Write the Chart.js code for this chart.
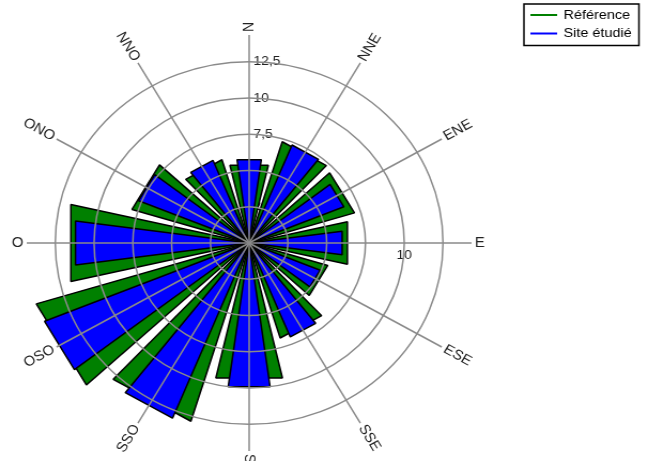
<!DOCTYPE html>
<html><head><meta charset="utf-8">
<script src="https://cdn.jsdelivr.net/npm/chart.js@4"></script>
<style>
html,body{margin:0;padding:0;background:#fff;overflow:hidden;width:648px;height:461px}
#wrap{position:absolute;left:0;top:0;width:606px;height:461px;transform:scaleX(1.0693);transform-origin:0 0}
canvas{display:block}
</style></head><body>
<div id="wrap"><canvas id="c" width="606" height="461" style="width:606px;height:461px"></canvas></div>
<script>
// Direction spokes (12, every 30°), labels as printed on the reference
const directions = ['N','NNE','ENE','E','ESE','SSE','S','SSO','OSO','O','ONO','NNO'];
// Series values per direction (same order as directions)
const refValues  = [5.5, 7.3, 7.1, 6.5, 5.3, 6.85, 9.55, 12.85, 14.35, 11.8, 7.9, 6.0];
const siteValues = [5.8, 7.3, 6.6, 6.05, 4.95, 7.0, 10.0, 13.05, 14.25, 11.3, 7.7, 6.15];
const seriesNames = ['Référence', 'Site étudié'];
const seriesColors = ['#008000', '#0000ff'];
const tickValues = [2.5, 5, 7.5, 10, 12.5];

const STEP = 360 / directions.length;
const REF_WIDTH = 26, SITE_WIDTH = 15.5;

function buildSeries(values, width) {
  const data = [0], angles = [STEP - width / 2], isBar = [false];
  for (let k = 1; k < values.length; k++) {
    data.push(values[k]); angles.push(width); isBar.push(true);
    data.push(0); angles.push(STEP - width); isBar.push(false);
  }
  data.push(values[0]); angles.push(width); isBar.push(true);
  return { data, angles, isBar };
}
const ref = buildSeries(refValues, REF_WIDTH);
const site = buildSeries(siteValues, SITE_WIDTH);

function makeDataset(s, name, color, order) {
  return {
    label: name, data: s.data, order: order, clip: false,
    backgroundColor: ctx => s.isBar[ctx.dataIndex] ? color : 'rgba(0,0,0,0)',
    borderColor: '#000',
    borderWidth: ctx => s.isBar[ctx.dataIndex] ? 1.5 : 0,
    angle: ctx => s.angles[ctx.dataIndex],
    circular: false
  };
}

const fmt = v => String(v).replace('.', ',');
const FONT = '"Liberation Sans", Arial, sans-serif';

const deco = {
  id: 'deco',
  beforeDatasetsDraw(chart) {
    const sc = chart.scales.r, ctx = chart.ctx;
    ctx.save();
    ctx.fillStyle = '#222';
    ctx.font = '13px ' + FONT;
    ctx.textBaseline = 'middle';
    ctx.textAlign = 'left';
    tickValues.forEach(v => {
      const d = sc.getDistanceFromCenterForValue(v);
      ctx.fillText(fmt(v), sc.xCenter + 4, sc.yCenter - d);
    });
    ctx.textAlign = 'center';
    const d10 = sc.getDistanceFromCenterForValue(10);
    ctx.fillText(fmt(10), sc.xCenter + d10, sc.yCenter + 12);
    ctx.restore();
  },
  afterDraw(chart) {
    const sc = chart.scales.r, ctx = chart.ctx;
    ctx.save();
    ctx.fillStyle = '#222';
    ctx.font = '14px ' + FONT;
    ctx.textBaseline = 'middle';
    directions.forEach((lab, i) => {
      const a = sc.getIndexAngle(i) - Math.PI / 2;
      const p = sc.getPointPosition(i, sc.drawingArea + 3);
      ctx.save();
      ctx.translate(p.x, p.y);
      if (Math.cos(a) > -0.01) { ctx.rotate(a); ctx.textAlign = 'left'; }
      else { ctx.rotate(a + Math.PI); ctx.textAlign = 'right'; }
      ctx.fillText(lab, 0, 0);
      ctx.restore();
    });
    // legend
    const lx = 490, ly = 4, lw = 107.5, lh = 41.5;
    ctx.fillStyle = '#fff';
    ctx.fillRect(lx, ly, lw, lh);
    ctx.strokeStyle = '#000'; ctx.lineWidth = 1.5;
    ctx.strokeRect(lx, ly, lw, lh);
    ctx.font = '13.5px ' + FONT;
    ctx.textAlign = 'left';
    seriesNames.forEach((n, i) => {
      const y = 15 + i * 18.5;
      ctx.strokeStyle = seriesColors[i]; ctx.lineWidth = 2;
      ctx.beginPath(); ctx.moveTo(496, y); ctx.lineTo(521, y); ctx.stroke();
      ctx.fillStyle = '#000';
      ctx.fillText(n, 527, y);
    });
    ctx.restore();
  }
};

new Chart(document.getElementById('c'), {
  type: 'polarArea',
  data: {
    labels: directions,
    datasets: [
      makeDataset(site, seriesNames[1], seriesColors[1], 1),
      makeDataset(ref, seriesNames[0], seriesColors[0], 2)
    ]
  },
  options: {
    responsive: false, animation: false, devicePixelRatio: 1,
    layout: { padding: { left: 25, top: 35, right: 165, bottom: 10 } },
    elements: { arc: { circular: false } },
    plugins: { legend: { display: false }, tooltip: { enabled: false } },
    scales: {
      r: {
        min: 0, max: 14.34, bounds: 'data', beginAtZero: true, startAngle: 0,
        ticks: { display: false, stepSize: 2.5, includeBounds: false },
        grid: { circular: true, color: '#8a8a8a', lineWidth: 1.5, z: 1 },
        angleLines: { display: true, color: '#8a8a8a', lineWidth: 1.5 },
        pointLabels: { display: false }
      }
    }
  },
  plugins: [deco]
});
</script>
</body></html>
